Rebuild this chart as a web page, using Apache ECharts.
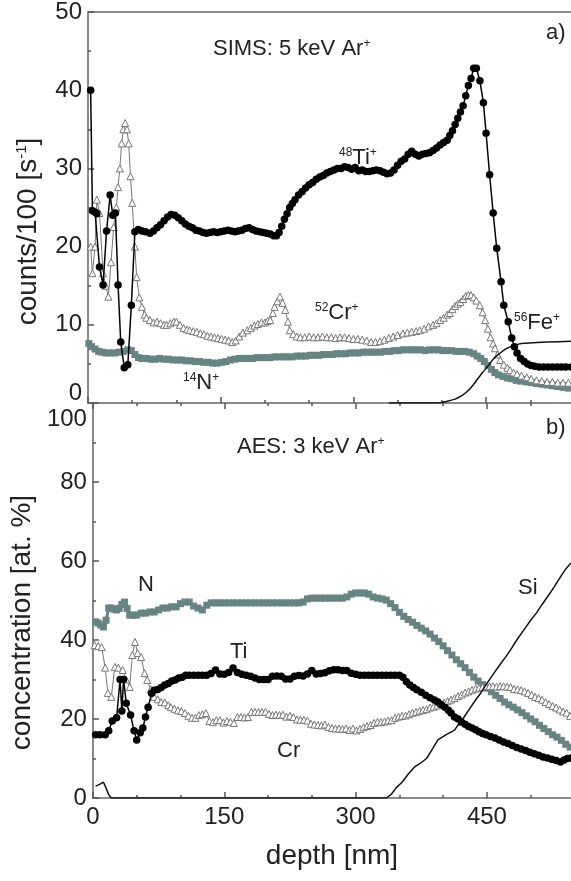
<!DOCTYPE html>
<html><head><meta charset="utf-8">
<script src="https://cdn.jsdelivr.net/npm/echarts@6/dist/echarts.min.js"></script>
<style>html,body{margin:0;padding:0;background:#fff}#c{width:571px;height:881px}</style>
</head><body><div id="c"></div><script>
// ---- axis ticks ----
const depthTicks = [0, 150, 300, 450];
const depthMax = 546;
const countsTicks = [0, 10, 20, 30, 40, 50];
const concTicks = [0, 20, 40, 60, 80, 100];

// ---- a) SIMS: 5 keV Ar+  [depth nm, counts/100 s^-1] ----
const simsTi = [[3,40],[5,24.6],[8,24.4],[10,24.2],[13,17.4],[17,15.1],[21,22],[25,26.6],[28,24],[31,24.3],[34,15.1],[37,7.8],[41,4.5],[45,4.9],[49,12.5],[53,21.9],[57,22.2],[61,22],[65,21.9],[70,21.7],[74,22],[78,22.4],[82,22.8],[86,23.3],[90,23.8],[94,24.1],[98,24],[102,23.7],[106,23.3],[110,22.9],[114,22.6],[118,22.4],[122,22.1],[126,22],[130,21.8],[134,21.7],[138,21.8],[142,21.9],[146,21.8],[150,21.9],[154,22],[158,22.1],[162,22],[166,21.9],[170,22],[174,22.1],[178,22.3],[182,22.4],[186,22.2],[190,22],[194,21.9],[198,21.8],[202,21.7],[206,21.6],[210,21.4],[213,21.4],[216,21.8],[219,22.6],[222,23.5],[225,24.2],[228,25],[231,25.5],[234,26],[238,26.6],[242,27],[246,27.5],[250,27.9],[254,28.2],[258,28.6],[262,28.9],[266,29.1],[270,29.4],[274,29.6],[278,29.8],[282,30],[286,30],[290,30.2],[294,30.1],[298,29.9],[302,30.1],[306,29.7],[310,29.8],[314,29.6],[318,29.6],[322,29.7],[326,29.8],[330,29.7],[334,29.5],[338,29.3],[342,29.4],[346,29.8],[350,30.4],[354,30.9],[358,31.2],[362,31.8],[366,32.2],[370,31.8],[374,31.6],[378,31.8],[382,31.9],[386,32],[390,32.3],[394,32.6],[398,33],[402,33.3],[406,33.6],[409,34.2],[412,34.8],[415,35.6],[418,36.4],[421,37.2],[424,38],[427,39.3],[430,40.6],[433,41.5],[436,42.8],[439,42.8],[443,41.2],[447,38.4],[450,34.5],[454,29.2],[458,24.3],[462,19.8],[467,15.5],[470,12.5],[475,10.4],[479,8.3],[482,7.2],[485,6.4],[489,5.7],[493,5.3],[497,5],[501,4.8],[505,4.7],[510,4.6],[515,4.6],[520,4.6],[525,4.6],[530,4.6],[535,4.6],[540,4.6],[546,4.6]];
const simsCr = [[3,20],[5,16.6],[8,20],[10,26],[13,24.3],[17,16.6],[20,15],[23,13.6],[26,18],[29,22.5],[32,25],[34,27.6],[36,30],[38,33.2],[40,35],[42,35.8],[44,35],[46,33.2],[48,29],[50,25.6],[53,20],[55,16.1],[58,13.5],[61,12.3],[64,11.3],[66,10.9],[70,10.6],[74,10.3],[78,10.4],[82,10.2],[86,10],[89,10],[93,10.2],[97,10.4],[100,10.4],[104,10],[108,9.6],[112,9.4],[115,9.3],[119,9.2],[123,9.1],[127,8.9],[131,8.8],[135,8.6],[139,8.5],[143,8.4],[147,8.3],[151,8.2],[155,8.1],[159,8],[163,7.8],[167,8],[171,8.5],[175,9],[180,9.3],[184,9.6],[188,9.9],[192,10.1],[196,10.3],[200,10.3],[203,10.5],[206,10.6],[209,11.5],[211,12.3],[214,13],[217,13.6],[220,12.8],[223,11.9],[226,10.4],[228,9.3],[232,8.8],[236,8.5],[240,8.4],[245,8.4],[250,8.5],[255,8.4],[260,8.4],[265,8.5],[270,8.4],[275,8.4],[280,8.3],[285,8.4],[290,8.4],[295,8.3],[300,8.2],[305,8.2],[310,8.1],[315,8],[320,7.8],[325,7.8],[330,7.9],[335,8.1],[340,8.3],[345,8.5],[350,8.7],[356,8.9],[361,9],[366,9.1],[371,9.2],[375,9.3],[380,9.5],[385,9.8],[390,10],[394,10.2],[398,10.6],[402,10.9],[406,11.3],[409,11.5],[412,12],[415,12.4],[418,12.7],[421,12.9],[424,13.3],[427,13.7],[430,13.8],[433,13.8],[436,13.5],[439,13.1],[443,12.5],[446,11.6],[449,10.6],[452,9.5],[455,8.4],[458,7.6],[460,7],[463,6.2],[466,5.5],[470,4.9],[474,4.5],[477,4.2],[481,3.9],[485,3.7],[490,3.5],[496,3.3],[501,3.1],[507,2.9],[513,2.8],[519,2.7],[525,2.7],[531,2.6],[537,2.6],[543,2.6]];
const simsN = [[1,7.6],[4,7.2],[8,6.9],[12,6.6],[16,6.5],[20,6.4],[25,6.4],[30,6.4],[35,6.5],[40,6.6],[45,6.8],[49,6.7],[53,6.2],[57,5.8],[61,5.7],[66,5.7],[71,5.6],[76,5.6],[81,5.7],[86,5.6],[91,5.6],[96,5.5],[101,5.5],[106,5.5],[111,5.4],[116,5.4],[121,5.3],[126,5.3],[131,5.2],[136,5.2],[141,5.1],[146,5.1],[151,5.2],[156,5.3],[161,5.5],[166,5.6],[171,5.7],[176,5.7],[181,5.7],[186,5.7],[191,5.8],[196,5.8],[201,5.8],[206,5.8],[211,5.9],[216,5.9],[221,5.9],[226,5.9],[231,5.9],[236,6],[241,6],[246,6],[251,6.1],[256,6.1],[261,6.1],[266,6.2],[271,6.2],[276,6.2],[281,6.3],[286,6.3],[291,6.3],[296,6.4],[301,6.4],[306,6.4],[311,6.5],[316,6.5],[321,6.5],[326,6.5],[331,6.5],[336,6.6],[341,6.6],[346,6.7],[351,6.7],[356,6.8],[361,6.8],[366,6.8],[371,6.8],[376,6.8],[381,6.7],[386,6.8],[391,6.8],[396,6.8],[401,6.7],[406,6.7],[411,6.7],[416,6.6],[421,6.6],[426,6.6],[431,6.5],[436,6.3],[440,6],[444,5.7],[448,5.3],[452,4.8],[456,4.3],[460,3.9],[464,3.6],[469,3.4],[474,3.2],[479,3.1],[484,2.9],[489,2.8],[495,2.7],[501,2.6],[507,2.5],[513,2.4],[519,2.3],[525,2.2],[531,2.1],[537,2],[543,1.9]];
const simsFe = [[340,0],[395,0],[405,0.2],[415,0.5],[422,0.9],[428,1.4],[434,2.1],[440,3],[446,3.9],[452,4.7],[458,5.6],[465,6.3],[472,6.9],[480,7.3],[490,7.6],[503,7.7],[520,7.8],[546,7.9]];

// ---- b) AES: 3 keV Ar+  [depth nm, concentration at.%] ----
const aesN = [[3,44.6],[6,44.3],[9,43.8],[12,43.3],[15,45],[18,48.1],[21,48.1],[24,47.8],[27,47.6],[30,48],[33,49],[36,49.6],[39,48],[42,46.3],[46,46.3],[50,46.3],[55,46.8],[60,46.8],[65,47.1],[70,47.1],[75,47.6],[80,48.1],[85,48.1],[90,48.4],[95,48.4],[100,49.2],[105,49.6],[110,49.6],[115,48.6],[120,48.1],[125,47.6],[130,48.8],[135,49.4],[140,49.4],[145,49.4],[150,49.4],[155,49.4],[160,49.4],[165,49.4],[170,49.4],[175,49.4],[180,49.4],[185,49.4],[190,49.4],[195,49.4],[200,49.4],[205,49.4],[210,49.4],[215,49.4],[220,49.4],[225,49.4],[230,49.4],[235,49.4],[240,49.6],[245,50.4],[250,50.6],[255,50.6],[260,50.6],[265,50.6],[270,50.6],[275,50.6],[280,50.6],[285,50.6],[290,50.9],[295,51.6],[300,51.9],[305,51.9],[310,51.9],[315,51.6],[320,50.9],[325,50.6],[330,50.4],[335,50.1],[340,49.2],[345,48.2],[350,47],[355,46],[360,45.2],[365,44.5],[370,43.7],[375,43],[380,42.3],[385,41.5],[390,40.5],[395,39.6],[400,38.5],[405,37.3],[410,36.2],[415,35],[420,34],[425,33],[430,31.8],[435,30.6],[440,29.6],[445,28.7],[450,27.8],[455,26.9],[460,26],[465,25.2],[470,24.3],[475,23.6],[480,23],[485,22.3],[490,21.6],[495,20.8],[500,20],[505,19.3],[510,18.4],[515,17.6],[520,16.8],[525,16],[530,15.4],[535,14.6],[540,13.6],[545,12.9]];
const aesTi = [[3,16],[8,16],[14,16],[18,17],[22,19.5],[27,20.3],[31,30],[33,22],[35,30],[38,24],[43,21],[47,17],[50,14.7],[54,16.5],[57,17.7],[60,20.5],[63,23],[67,26.5],[70,27.3],[74,27.5],[78,28],[82,28.6],[86,29],[90,29.6],[94,29.9],[98,30.4],[102,30.6],[106,31.1],[110,31.1],[115,31.1],[120,31.1],[125,31.1],[130,31.1],[135,31.5],[140,32.4],[145,31.4],[150,31.3],[155,31.8],[160,32.9],[165,31.8],[170,31.3],[175,31.1],[180,30.8],[185,30.4],[190,30],[195,30],[200,30],[205,30.8],[210,30.9],[215,30.8],[220,30.1],[225,30.1],[230,30.8],[235,31],[240,30.9],[245,31.4],[250,32.3],[255,31.4],[260,31.5],[265,31.7],[270,32.2],[275,32.5],[280,32.5],[285,32.3],[290,32.3],[295,31.6],[300,31.3],[305,31.1],[310,31.1],[315,31.1],[320,31.1],[325,31.1],[330,31.1],[335,31.1],[340,31.1],[345,31.1],[350,31.1],[354,30.6],[358,29.4],[362,28.6],[366,28],[370,27.4],[375,26.8],[380,26],[385,25.4],[390,24.8],[394,24.3],[398,23.6],[402,23],[406,22.2],[409,21.5],[413,20.5],[417,20],[421,19.2],[425,18.7],[429,18.1],[433,17.7],[437,17.3],[441,16.8],[445,16.3],[449,16],[454,15.6],[459,15.2],[464,14.7],[469,14.2],[474,13.8],[479,13.3],[484,12.8],[489,12.4],[494,12],[499,11.6],[504,11.2],[509,10.8],[514,10.4],[519,10.1],[524,9.8],[529,9.5],[534,9.1],[538,9.6],[542,10],[546,10.1]];
const aesCr = [[2,38.7],[6,38.5],[10,38.2],[14,33],[17,26.6],[21,25.6],[25,33.2],[29,33],[34,32.4],[38,30],[42,28.1],[45,36.2],[48,39.5],[51,36.7],[55,35.7],[59,31.6],[62,29.9],[66,27.5],[70,25.6],[74,25],[78,24.3],[82,24.2],[86,23.5],[89,23],[93,22.6],[97,22.2],[101,22],[105,21.5],[109,20.8],[113,20.3],[117,20.3],[121,21],[125,21.2],[129,21.5],[133,19.5],[137,19.2],[141,19.7],[145,19.7],[149,19.1],[153,19.5],[157,19.3],[161,19],[165,20.5],[169,20.5],[173,20.4],[177,20.5],[181,21.8],[185,21.8],[189,21.8],[193,21.8],[197,21.8],[201,21.3],[205,21],[209,21.1],[213,21],[217,21.1],[221,20.6],[225,20.8],[229,20.5],[233,19.9],[237,19.8],[241,19.8],[245,19.6],[249,18.8],[253,18.6],[257,18.5],[261,18.4],[265,18.6],[269,18],[273,17.7],[277,17.6],[281,17.6],[285,17.5],[289,17.6],[293,17.2],[297,17.6],[301,17.1],[305,17.5],[309,17.9],[313,18.2],[317,18.5],[321,19],[325,19.3],[329,19.2],[333,19.4],[337,19.6],[341,19.7],[345,20.3],[349,20.6],[353,20.8],[357,20.9],[361,21.2],[365,21.6],[369,21.8],[373,22.1],[377,22.3],[381,22.5],[385,22.9],[389,23.1],[393,23.4],[397,23.9],[401,24.2],[405,24.5],[409,24.9],[413,25.3],[417,25.8],[421,26.2],[425,26.7],[429,27],[433,27.4],[437,27.7],[441,27.9],[445,28.1],[449,28.3],[453,28.3],[457,28.3],[461,28.2],[465,28.3],[469,28.3],[473,28.2],[477,28.1],[481,27.6],[485,27.5],[489,27.3],[493,27],[497,26.6],[501,26.1],[505,25.6],[509,25.3],[513,24.9],[517,24.3],[521,23.8],[525,23.3],[529,22.9],[533,22.4],[537,21.9],[541,21.6],[545,20.8]];
const aesSi = [[3,3],[7,3.4],[12,4],[15,2.5],[18,0.8],[21,0],[335,0],[341,1],[346,2.5],[353,4],[360,6],[367,7.8],[374,8.8],[381,10],[388,12.5],[394,14.7],[403,16],[413,17.2],[418,18.8],[424,20.5],[430,22.5],[436,24.5],[443,26.6],[450,29],[458,31.6],[465,33.8],[471,35.6],[477,37.5],[484,40],[492,42.5],[500,45],[507,47],[513,49],[519,50.9],[525,52.8],[530,54.6],[534,56],[540,58],[546,59.5]];

const FONT = '"Liberation Sans", Arial, Helvetica, sans-serif';
const TXT = '#222';
const N_COLOR = '#668482';

const chart = echarts.init(document.getElementById('c'), null, {renderer: 'canvas'});

const axisLine = {show: true, onZero: false, lineStyle: {color: '#8a8a8a', width: 2}};
const axisTick = {show: true, inside: true, length: 6, lineStyle: {color: '#555', width: 1.5}};
const minorTick = (n) => ({show: true, splitNumber: n, length: 3, lineStyle: {color: '#555', width: 1.5}});

function xAx(grid, pos, labels) {
  const step = depthTicks[1] - depthTicks[0];
  const ticksOn = pos === 'bottom' || grid === 1;
  return {
    type: 'value', gridIndex: grid, position: pos, min: depthTicks[0], max: depthMax, interval: step,
    axisLine,
    axisTick: Object.assign({}, axisTick, {show: ticksOn, customValues: depthTicks}),
    minorTick: Object.assign(minorTick(3), {show: ticksOn}),
    splitLine: {show: false},
    axisLabel: {show: labels, fontSize: 24, color: TXT, fontFamily: FONT, margin: 7, customValues: depthTicks},
    name: labels ? 'depth [nm]' : '', nameLocation: 'middle', nameGap: 44,
    nameTextStyle: {fontSize: 28, color: TXT, fontFamily: FONT}
  };
}

const option = {
  animation: false,
  backgroundColor: '#fff',
  grid: [
    {left: 88, right: 0, top: 12, height: 391},
    {left: 88, right: 0, top: 403, height: 395}
  ],
  xAxis: [xAx(0, 'bottom', false), xAx(0, 'top', false), xAx(1, 'bottom', true), xAx(1, 'top', false)],
  yAxis: [
    {type: 'value', gridIndex: 0, min: countsTicks[0], max: countsTicks[countsTicks.length - 1],
      interval: countsTicks[1] - countsTicks[0],
      axisLine, axisTick, minorTick: minorTick(2), splitLine: {show: false},
      axisLabel: {fontSize: 24, color: TXT, fontFamily: FONT, margin: 6,
        formatter: v => v === 0 ? '{lo|0}' : String(v),
        rich: {lo: {fontSize: 24, color: TXT, fontFamily: FONT, padding: [0, 0, 20, 0]}}},
      name: 'counts/100 [s{sup|-1}]', nameLocation: 'middle', nameGap: 46,
      nameTextStyle: {fontSize: 28, color: TXT, fontFamily: FONT, padding: [0, 48, 0, 0],
        rich: {sup: {fontSize: 15, color: TXT, fontFamily: FONT, verticalAlign: 'top', padding: [0, 0, 12, 0]}}}
    },
    {type: 'value', gridIndex: 1, min: concTicks[0], max: concTicks[concTicks.length - 1],
      interval: concTicks[1] - concTicks[0],
      axisLine, axisTick, minorTick: minorTick(2), splitLine: {show: false},
      axisLabel: {fontSize: 24, color: TXT, fontFamily: FONT, margin: 6,
        formatter: v => v === 100 ? '{hi|100}' : String(v),
        rich: {hi: {fontSize: 24, color: TXT, fontFamily: FONT, padding: [32, 0, 0, 0]}}},
      name: 'concentration [at. %]', nameLocation: 'middle', nameGap: 46,
      nameTextStyle: {fontSize: 28, color: TXT, fontFamily: FONT, padding: [0, 44, 0, 0]}
    }
  ],
  series: [
    {name: 'N+', type: 'line', xAxisIndex: 0, yAxisIndex: 0, data: simsN, showAllSymbol: true,
      symbol: 'rect', symbolSize: 7, itemStyle: {color: N_COLOR}, lineStyle: {color: N_COLOR, width: 3}, z: 2},
    {name: 'Cr+', type: 'line', xAxisIndex: 0, yAxisIndex: 0, data: simsCr, showAllSymbol: true,
      symbol: 'triangle', symbolSize: 7, itemStyle: {color: '#fff', borderColor: '#777', borderWidth: 1},
      lineStyle: {color: '#777', width: 1}, z: 3},
    {name: 'Fe+', type: 'line', xAxisIndex: 0, yAxisIndex: 0, data: simsFe, symbol: 'none', smooth: 0.3,
      lineStyle: {color: '#111', width: 1.5}, z: 4},
    {name: 'Ti+', type: 'line', xAxisIndex: 0, yAxisIndex: 0, data: simsTi, showAllSymbol: true,
      symbol: 'circle', symbolSize: 7.5, itemStyle: {color: '#000'}, lineStyle: {color: '#000', width: 1.5}, z: 5},

    {name: 'N', type: 'line', xAxisIndex: 2, yAxisIndex: 1, data: aesN, showAllSymbol: true,
      symbol: 'rect', symbolSize: 7, itemStyle: {color: N_COLOR}, lineStyle: {color: N_COLOR, width: 3}, z: 2},
    {name: 'Cr', type: 'line', xAxisIndex: 2, yAxisIndex: 1, data: aesCr, showAllSymbol: true,
      symbol: 'triangle', symbolSize: 7, itemStyle: {color: '#fff', borderColor: '#777', borderWidth: 1},
      lineStyle: {color: '#777', width: 1}, z: 3},
    {name: 'Si', type: 'line', xAxisIndex: 2, yAxisIndex: 1, data: aesSi, symbol: 'none',
      lineStyle: {color: '#111', width: 1.5}, z: 4},
    {name: 'Ti', type: 'line', xAxisIndex: 2, yAxisIndex: 1, data: aesTi, showAllSymbol: true,
      symbol: 'circle', symbolSize: 7.5, itemStyle: {color: '#000'}, lineStyle: {color: '#000', width: 1.5}, z: 5}
  ],
  graphic: [
    lbl(213, 49, 'SIMS: 5 keV Ar{sup|+}'),
    lbl(546, 33, 'a)'),
    lbl(339, 158, '{sup|48}Ti{sup|+}'),
    lbl(315, 313, '{sup|52}Cr{sup|+}'),
    lbl(514, 323, '{sup|56}Fe{sup|+}'),
    lbl(183, 383, '{sup|14}N{sup|+}'),
    lbl(237, 447, 'AES: 3 keV Ar{sup|+}'),
    lbl(546, 428, 'b)'),
    lbl(138, 585, 'N'),
    lbl(230, 652, 'Ti'),
    lbl(277, 751, 'Cr'),
    lbl(518, 588, 'Si')
  ]
};

function lbl(x, y, text) {
  return {type: 'text', x: x, y: y, z: 100, silent: true,
    style: {text: text, fill: TXT, font: '22px ' + FONT, textAlign: 'left', textVerticalAlign: 'middle',
      rich: {sup: {fontSize: 12, fill: TXT, fontFamily: FONT, verticalAlign: 'top', padding: [0, 0, 10, 0]}}}};
}

chart.setOption(option);
</script></body></html>
